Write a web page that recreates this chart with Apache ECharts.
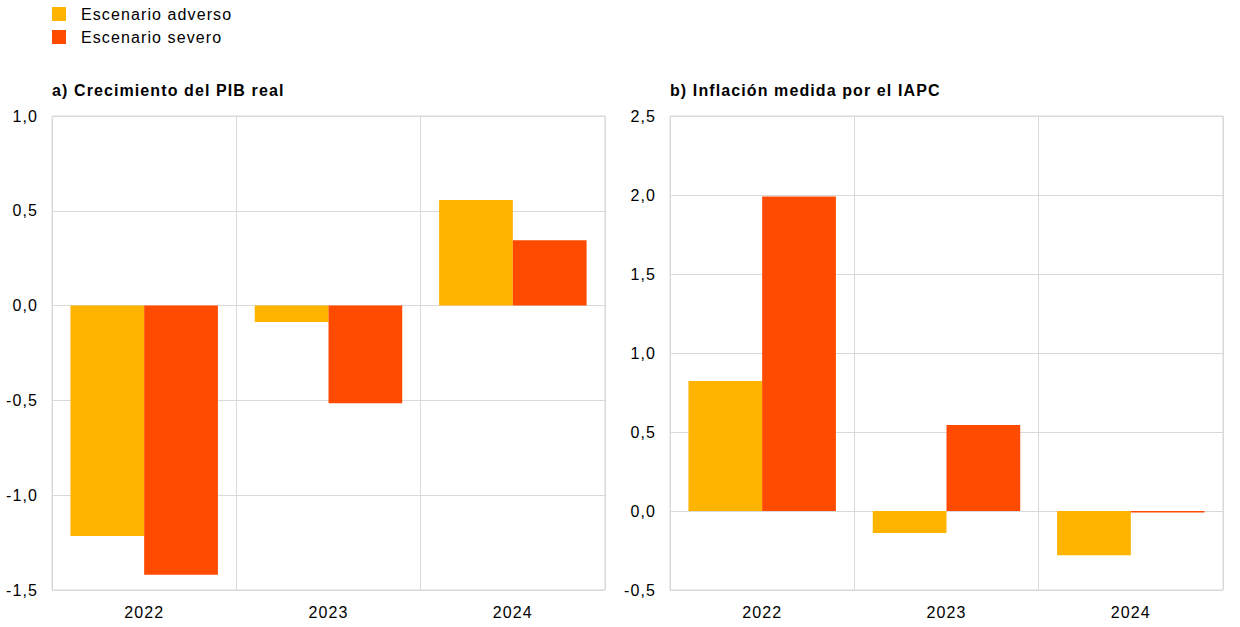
<!DOCTYPE html>
<html><head><meta charset="utf-8">
<script src="https://cdn.jsdelivr.net/npm/echarts@6/dist/echarts.min.js"></script>
<style>html,body{margin:0;padding:0;background:#fff}#c{width:1240px;height:627px}#c text{letter-spacing:1.1px !important}</style>
</head><body><div id="c"></div>
<script>
const categories = ['2022', '2023', '2024'];
const seriesNames = ['Escenario adverso', 'Escenario severo'];
const gdpAdverse = [-1.215, -0.087, 0.557];
const gdpSevere = [-1.42, -0.515, 0.345];
const hicpAdverse = [0.823, -0.14, -0.28];
const hicpSevere = [1.99, 0.545, -0.01];
const titles = ['a) Crecimiento del PIB real', 'b) Inflación medida por el IAPC'];
const colors = ['#FFB400', '#FF4B00'];

const font = 'Liberation Sans, Arial, sans-serif';
const gridColor = '#d9d9d9';
const chart = echarts.init(document.getElementById('c'), null, {renderer: 'svg'});
const fmt = v => v.toFixed(1).replace('.', ',');
function yAxis(idx, min, max) {
  return {
    type: 'value', gridIndex: idx, min: min, max: max, interval: 0.5,
    axisLine: {show: false}, axisTick: {show: false},
    axisLabel: {formatter: fmt, color: '#000', fontSize: 16, fontFamily: font, margin: 14},
    splitLine: {lineStyle: {color: gridColor, width: 1}}
  };
}
function xAxis(idx) {
  return {
    type: 'category', gridIndex: idx, data: categories,
    axisLine: {show: false}, axisTick: {show: false},
    axisLabel: {color: '#000', fontSize: 16, fontFamily: font, margin: 14},
    splitLine: {show: true, lineStyle: {color: gridColor, width: 1}}
  };
}
function bar(name, data, idx, color) {
  return {
    name: name, type: 'bar', xAxisIndex: idx, yAxisIndex: idx, data: data,
    barGap: '0%', barCategoryGap: '20%', itemStyle: {color: color}
  };
}
chart.setOption({
  animation: false,
  textStyle: {fontFamily: font},
  legend: {
    orient: 'vertical', left: 47, top: 1, itemWidth: 14, itemHeight: 14, itemGap: 7,
    icon: 'rect', data: seriesNames,
    textStyle: {fontSize: 16, color: '#000', fontFamily: font, padding: [0, 0, 0, 10]}
  },
  title: [
    {text: titles[0], left: 47, top: 77, textStyle: {fontSize: 16, fontWeight: 'bold', color: '#000', fontFamily: font}},
    {text: titles[1], left: 665, top: 77, textStyle: {fontSize: 16, fontWeight: 'bold', color: '#000', fontFamily: font}}
  ],
  grid: [
    {left: 52, top: 116, width: 553, height: 474, show: true, borderColor: gridColor, borderWidth: 1},
    {left: 670, top: 116, width: 553, height: 474, show: true, borderColor: gridColor, borderWidth: 1}
  ],
  xAxis: [xAxis(0), xAxis(1)],
  yAxis: [yAxis(0, -1.5, 1.0), yAxis(1, -0.5, 2.5)],
  series: [
    bar(seriesNames[0], gdpAdverse, 0, colors[0]),
    bar(seriesNames[1], gdpSevere, 0, colors[1]),
    bar(seriesNames[0], hicpAdverse, 1, colors[0]),
    bar(seriesNames[1], hicpSevere, 1, colors[1])
  ]
});
</script></body></html>
